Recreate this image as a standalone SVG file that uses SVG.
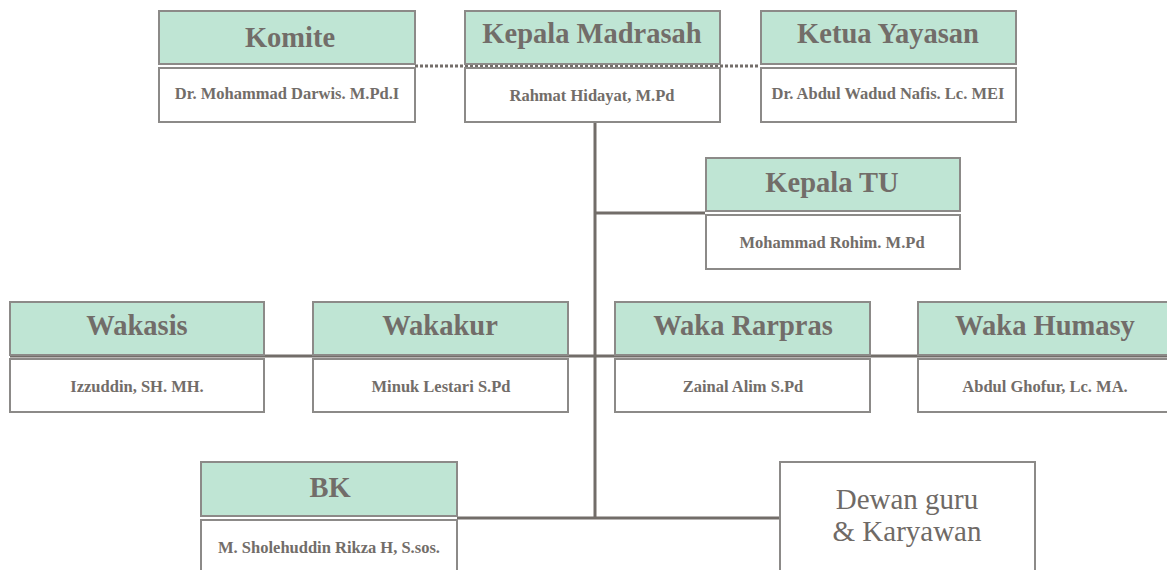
<svg xmlns="http://www.w3.org/2000/svg" width="1167" height="570" viewBox="0 0 1167 570">
<style>
.hd{fill:#bfe5d4;stroke:#8c8a88;stroke-width:2}
.bd{fill:#fff;stroke:#8c8a88;stroke-width:2}
.ht{font-family:"Liberation Serif",serif;font-weight:bold;font-size:28.5px;fill:#726d69;text-anchor:middle}
.bt{font-family:"Liberation Serif",serif;font-weight:bold;font-size:16.5px;fill:#726d69;text-anchor:middle}
.dt{font-family:"Liberation Serif",serif;font-size:29px;fill:#6f6a66;text-anchor:middle}
.ln{stroke:#726d69;stroke-width:3;fill:none}
</style>
<rect width="1167" height="570" fill="#fff"/>
<g id="connectors">
<line class="ln" x1="415" y1="66" x2="760" y2="66" stroke-dasharray="3,2"/>
<line class="ln" x1="595" y1="122" x2="595" y2="519"/>
<line class="ln" x1="595" y1="213" x2="705" y2="213"/>
<line class="ln" x1="10" y1="356" x2="1167" y2="356"/>
<line class="ln" x1="457" y1="518" x2="779" y2="518"/>
</g>
<g id="komite">
<rect class="hd" x="159" y="11" width="256" height="53"/>
<rect class="bd" x="159" y="68" width="256" height="54"/>
<text class="ht" x="290" y="47">Komite</text>
<text class="bt" x="287" y="99">Dr. Mohammad Darwis. M.Pd.I</text>
</g>
<g id="kepala-madrasah">
<rect class="hd" x="465" y="11" width="255" height="53"/>
<rect class="bd" x="465" y="68" width="255" height="54"/>
<text class="ht" x="592" y="43">Kepala Madrasah</text>
<text class="bt" x="592" y="101">Rahmat Hidayat, M.Pd</text>
</g>
<g id="ketua-yayasan">
<rect class="hd" x="761" y="11" width="255" height="53"/>
<rect class="bd" x="761" y="68" width="255" height="54"/>
<text class="ht" x="888" y="43">Ketua Yayasan</text>
<text class="bt" x="888" y="99">Dr. Abdul Wadud Nafis. Lc. MEI</text>
</g>
<g id="kepala-tu">
<rect class="hd" x="706" y="158" width="254" height="53"/>
<rect class="bd" x="706" y="215" width="254" height="54"/>
<text class="ht" x="832" y="192">Kepala TU</text>
<text class="bt" x="832" y="248">Mohammad Rohim. M.Pd</text>
</g>
<g id="wakasis">
<rect class="hd" x="10" y="302" width="254" height="53"/>
<rect class="bd" x="10" y="359" width="254" height="53"/>
<text class="ht" x="137" y="335">Wakasis</text>
<text class="bt" x="137" y="392">Izzuddin, SH. MH.</text>
</g>
<g id="wakakur">
<rect class="hd" x="313" y="302" width="255" height="53"/>
<rect class="bd" x="313" y="359" width="255" height="53"/>
<text class="ht" x="440" y="335">Wakakur</text>
<text class="bt" x="441" y="392">Minuk Lestari S.Pd</text>
</g>
<g id="waka-rarpras">
<rect class="hd" x="615" y="302" width="255" height="53"/>
<rect class="bd" x="615" y="359" width="255" height="53"/>
<text class="ht" x="743" y="335">Waka Rarpras</text>
<text class="bt" x="743" y="392">Zainal Alim S.Pd</text>
</g>
<g id="waka-humasy">
<rect class="hd" x="918" y="302" width="260" height="53"/>
<rect class="bd" x="918" y="359" width="260" height="53"/>
<text class="ht" x="1045" y="335">Waka Humasy</text>
<text class="bt" x="1045" y="392">Abdul Ghofur, Lc. MA.</text>
</g>
<g id="bk">
<rect class="hd" x="201" y="462" width="256" height="54"/>
<rect class="bd" x="201" y="520" width="256" height="60"/>
<text class="ht" x="330" y="497">BK</text>
<text class="bt" x="329" y="553">M. Sholehuddin Rikza H, S.sos.</text>
</g>
<g id="dewan-guru">
<rect class="bd" x="780" y="462" width="255" height="120"/>
<text class="dt" x="907" y="509">Dewan guru</text>
<text class="dt" x="907" y="541">&amp; Karyawan</text>
</g>
</svg>
